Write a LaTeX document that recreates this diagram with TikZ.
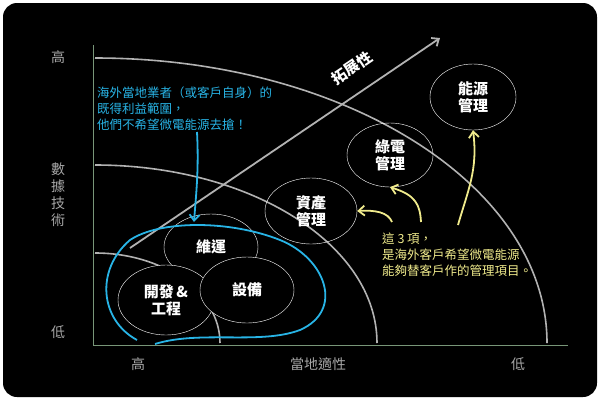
\documentclass[tikz,border=0pt]{standalone}
\usepackage{fontspec}
\setmainfont{Noto Sans CJK TC}
\usetikzlibrary{positioning}
\usetikzlibrary{shapes.geometric}
\usetikzlibrary{arrows.meta}
\definecolor{axisgreen}{RGB}{120,150,120}
\definecolor{skyblue}{RGB}{40,180,230}
\definecolor{paleyellow}{RGB}{240,235,140}
\tikzstyle{topic} = [ellipse, draw=white, thin, text=white, align=center, font=\fontsize{15}{17}\selectfont\bfseries]
\tikzstyle{axislabel} = [text=gray!70, font=\fontsize{14}{16}\selectfont]
\tikzstyle{arc} = [draw=gray!60, line width=1.6pt]
\tikzstyle{note} = [align=left, font=\fontsize{12.5}{16}\selectfont, inner sep=0pt]
\tikzstyle{hand} = [line width=1.8pt, -{Straight Barb[length=6pt, width=10pt]}]
\begin{document}
\begin{tikzpicture}[x=1pt, y=-1pt]
        \useasboundingbox (0,0) rectangle (600,400);
        \fill[black, rounded corners=14pt] (3,3) rectangle (597,397);
        % arcs
        \draw [arc] (95,58) arc[start angle=90, end angle=0, x radius=452, y radius=-285];
        \draw [arc] (95,165) arc[start angle=90, end angle=0, x radius=282, y radius=-178];
        \draw [arc] (95,253) arc[start angle=90, end angle=0, x radius=125, y radius=-90];
        % axes
        \draw [axisgreen, line width=1pt] (93,45) -- (93,345) -- (568,345);
        \node (hiY) [axislabel] at (58,57) {高};
        \node (techY) [axislabel, align=center, font=\fontsize{14}{17}\selectfont] at (58,195) {數\\據\\技\\術};
        \node (loY) [axislabel] at (58,332) {低};
        \node (hiX) [axislabel] at (138,364) {高};
        \node (localX) [axislabel] at (318,364) {當地適性};
        \node (loX) [axislabel] at (518,364) {低};
        % expansion arrow
        \coordinate (expStart) at (130,248);
        \coordinate (expEnd) at (440,38);
        \draw [gray!60, hand] (expStart) -- (expEnd);
        \node (expLabel) [text=white, rotate=34, font=\fontsize{15}{17}\selectfont\bfseries] at (352,68) {拓展性};
        % topics
        \node (maint) [topic, minimum width=94pt, minimum height=66pt] at (211,247) {維運};
        \node (dev) [topic, minimum width=96pt, minimum height=70pt, fill=black] at (166,300) {開發\,\&\\工程};
        \node (equip) [topic, minimum width=94pt, minimum height=66pt, fill=black] at (247,290) {設備};
        \node (asset) [topic, minimum width=92pt, minimum height=66pt] at (311,211) {資產\\管理};
        \node (green) [topic, minimum width=86pt, minimum height=64pt] at (390,155) {綠電\\管理};
        \node (energy) [topic, minimum width=86pt, minimum height=66pt] at (473,97) {能源\\管理};
        % blue note
        \node (blueNote) [note, text=skyblue, anchor=north west] at (97,87) {海外當地業者（或客戶自身）的\\既得利益範圍，\\他們不希望微電能源去搶！};
        \draw [skyblue, hand] (197,132) .. controls (199,170) and (196,195) .. (194,222);
        \draw [skyblue, line width=1.8pt] (137,340) .. controls (100,320) and (95,270) .. (130,240)
              .. controls (160,220) and (230,220) .. (280,240)
              .. controls (325,258) and (345,310) .. (300,330)
              .. controls (260,345) and (200,330) .. (155,344);
        % yellow note
        \node (yellowNote) [note, text=paleyellow, anchor=north west] at (382,233) {這 3 項，\\是海外客戶希望微電能源\\能夠替客戶作的管理項目。};
        \draw [paleyellow, hand] (392,222) .. controls (388,212) and (375,210) .. (asset.east);
        \draw [paleyellow, hand] (421,222) .. controls (420,205) and (416,195) .. (green.south);
        \draw [paleyellow, hand] (458,225) .. controls (468,190) and (478,170) .. (energy.south);
\end{tikzpicture}
\end{document}
